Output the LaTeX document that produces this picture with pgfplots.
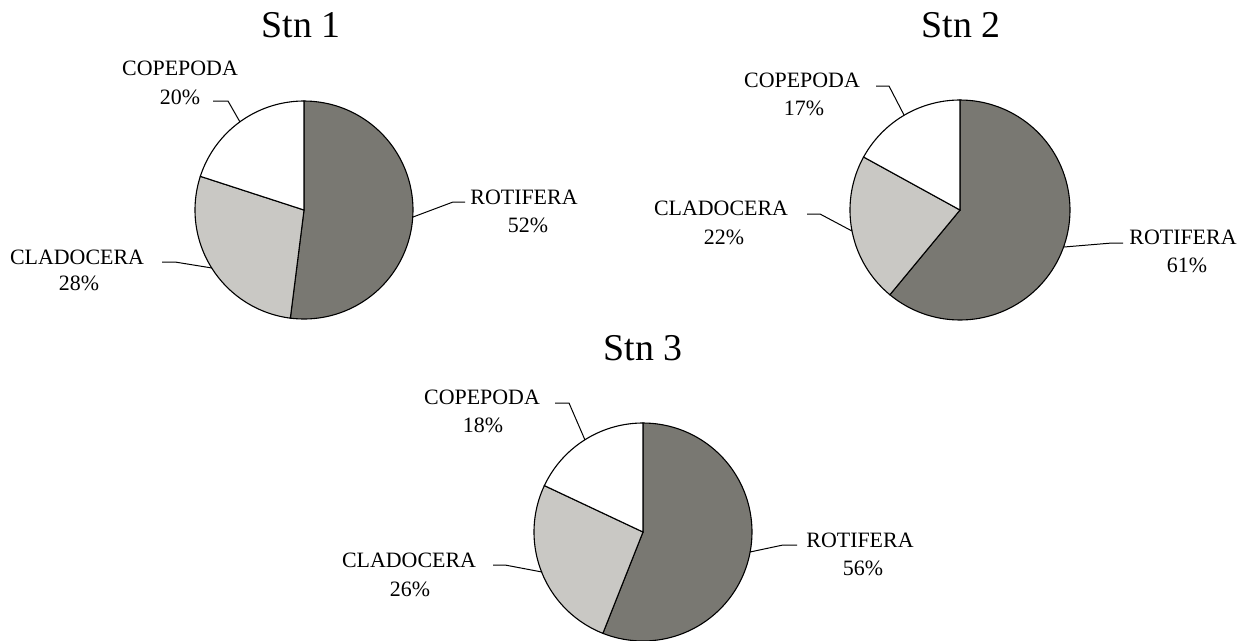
\documentclass[border=0pt]{standalone}
\usepackage{pgfplots}
\pgfplotsset{compat=1.18}
\usepackage{fontspec}
\setmainfont{Liberation Serif}
\definecolor{rotc}{RGB}{121,120,114}
\definecolor{cladc}{RGB}{201,200,196}
\definecolor{copec}{RGB}{255,255,255}
% #1 cx, #2 cy, #3 r, #4 ROTIFERA %, #5 CLADOCERA %, #6 COPEPODA %
\newcommand{\pie}[6]{%
  \addplot[fill=rotc, draw=black, line width=1.1bp, domain={90-3.6*#4}:90, samples=90, variable=\t]
    ({#1+#3*cos(\t)}, {#2-#3*sin(\t)}) -- (axis cs:#1,#2) -- cycle;
  \addplot[fill=cladc, draw=black, line width=1.1bp, domain={90+3.6*#6}:{450-3.6*#4}, samples=60, variable=\t]
    ({#1+#3*cos(\t)}, {#2-#3*sin(\t)}) -- (axis cs:#1,#2) -- cycle;
  \addplot[fill=copec, draw=black, line width=1.1bp, domain=90:{90+3.6*#6}, samples=50, variable=\t]
    ({#1+#3*cos(\t)}, {#2-#3*sin(\t)}) -- (axis cs:#1,#2) -- cycle;
}
\newcommand{\lab}[3]{\node[anchor=base, inner sep=0pt, font=\fontsize{22}{26}\selectfont] at (axis cs:#1,#2) {#3};}
\newcommand{\ttl}[3]{\node[anchor=base, inner sep=0pt, font=\fontsize{38}{44}\selectfont] at (axis cs:#1,#2) {#3};}
\begin{document}
\begin{tikzpicture}
\useasboundingbox (0,0) rectangle (1253bp,641bp);
\begin{axis}[
  at={(0,0)}, anchor=south west,
  x=1bp, y=1bp, y dir=reverse,
  xmin=0, xmax=1253, ymin=0, ymax=641,
  hide axis, clip=true,
]
% Stn 1
\pie{304}{210}{109}{52}{28}{20}
% Stn 2
\pie{960}{210}{110}{61}{22}{17}
% Stn 3
\pie{643}{532}{109}{56}{26}{18}

% leader lines
\addplot[black, line width=1bp] coordinates {(213,101) (228,101) (240,122)};
\addplot[black, line width=1bp] coordinates {(162,262) (175,262) (212,268)};
\addplot[black, line width=1bp] coordinates {(465,202) (453,202) (413,217)};
\addplot[black, line width=1bp] coordinates {(876,86) (889,86) (904,115)};
\addplot[black, line width=1bp] coordinates {(807,214) (820,214) (852,231)};
\addplot[black, line width=1bp] coordinates {(1123,243) (1112,243) (1064,247)};
\addplot[black, line width=1bp] coordinates {(555,403) (569,403) (585,440)};
\addplot[black, line width=1bp] coordinates {(493,565) (505,565) (542,572)};
\addplot[black, line width=1bp] coordinates {(797,545) (783,545) (750,552)};

% titles
\ttl{301}{37}{Stn 1}
\ttl{961}{37}{Stn 2}
\ttl{643}{360}{Stn 3}

% labels
\lab{180}{75}{COPEPODA}
\lab{180}{104.5}{20\%}
\lab{77}{264}{CLADOCERA}
\lab{79}{290.5}{28\%}
\lab{524}{204}{ROTIFERA}
\lab{528}{232.5}{52\%}

\lab{802}{87}{COPEPODA}
\lab{804}{115.5}{17\%}
\lab{721}{215}{CLADOCERA}
\lab{724}{244.5}{22\%}
\lab{1183}{244}{ROTIFERA}
\lab{1187}{272.5}{61\%}

\lab{482}{404}{COPEPODA}
\lab{483}{432.5}{18\%}
\lab{409}{567}{CLADOCERA}
\lab{410}{596.5}{26\%}
\lab{860}{547}{ROTIFERA}
\lab{863}{575.5}{56\%}
\end{axis}
\end{tikzpicture}
\end{document}
